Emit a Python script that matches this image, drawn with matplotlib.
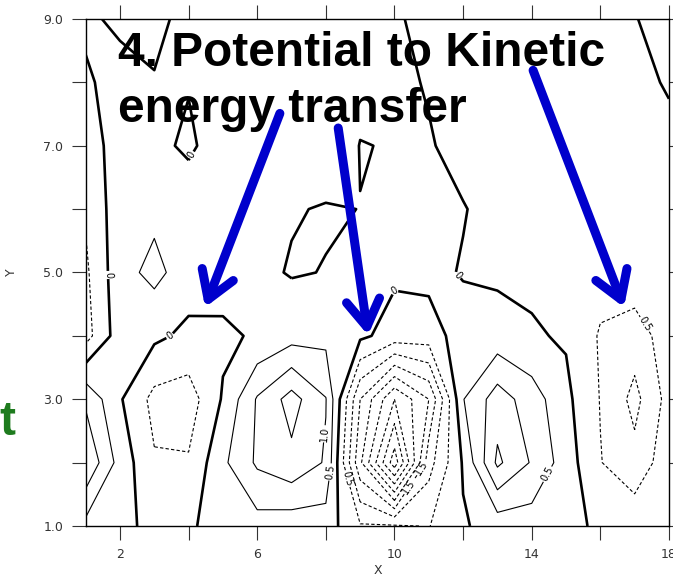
import numpy as np
import matplotlib
matplotlib.use('Agg')
from matplotlib import pyplot as plt
from matplotlib.patches import FancyArrowPatch

# grid (x = 1..18, y = 1..9)
xs = list(range(1, 19))
ys = list(range(1, 10))

row1 = [0.35, 0.25, -0.25, -0.1, 0.3, 0.3, 0.2, 0.25, -0.45, -0.45, -0.52, -0.05, 0.2, 0.25, 0.1, -0.06, -0.15, -0.1]
row2 = [1.45, 0.3, -0.45, -0.45, 0.4, 1.08, 1.37, 0.95, -1.9, -4.3, -1.2, 0.05, 1.6, 0.95, 0.25, -0.48, -0.84, -0.2]
row3 = [0.91, 0.05, -0.65, -0.75, 0.05, 1.05, 1.7, 1.02, -1.5, -3.0, -2.0, 0.48, 1.25, 0.75, 0.12, -0.52, -1.15, -0.32]
row4 = [-0.69, 0.27, 0.1, -0.11, -0.09, 0.06, 0.3, 0.35, 0.1, -0.2, -0.25, 0.25, 0.2, 0.05, -0.05, -0.55, -0.75, -0.25]
row5 = [-0.59, 0.32, 0.64, 0.24, 0.2, 0.1, -0.03, 0.012, 0.1, 0.08, 0.15, -0.04, -0.08, -0.09, -0.12, -0.3, -0.18, -0.12]
row6 = [-0.44, 0.29, 0.38, 0.17, 0.2, 0.15, 0.03, -0.03, 0.004, 0.1, 0.1, 0.03, -0.2, -0.2, -0.15, -0.15, -0.15, -0.15]
row7 = [-0.3, 0.27, 0.075, -0.05, 0.15, 0.2, 0.2, 0.27, -0.01, 0.016, 0.05, -0.2, -0.25, -0.2, -0.15, -0.15, -0.12, -0.1]
row8 = [-0.14, 0.38, 0.05, 0.017, 0.1, 0.15, 0.2, 0.2, 0.1, 0.15, -0.05, -0.2, -0.25, -0.2, -0.15, -0.12, -0.1, 0.035]
row9 = [0.18, -0.2, -0.21, 0.25, 0.2, 0.15, 0.15, 0.1, 0.05, 0.03, -0.07, -0.15, -0.2, -0.2, -0.15, -0.1, -0.05, 0.45]

neg_levels = [-4.0, -3.5, -3.0, -2.5, -2.0, -1.5, -1.0, -0.5]
pos_levels = [0.5, 1.0, 1.5]

title_lines = ["4. Potential to Kinetic", "energy transfer"]

# arrows: (tail, tip) in data units
arrows = [((6.66, 7.51), (4.48, 4.45)),
          ((8.36, 7.28), (9.23, 4.01)),
          ((14.04, 8.19), (16.69, 4.45))]

Z = np.array([row1, row2, row3, row4, row5, row6, row7, row8, row9])
X, Y = np.meshgrid(xs, ys)

def fmt(v):
    if abs(v) < 1e-9:
        return "0"
    return "%.1f" % abs(v)

fig = plt.figure(figsize=(6.73, 5.77), dpi=100)
ax = fig.add_axes([0.1273, 0.0884, 0.8667, 0.8787])

cn = ax.contour(X, Y, Z, levels=neg_levels, colors='k', linewidths=0.8,
                linestyles=[(0, (3, 2))])
cz = ax.contour(X, Y, Z, levels=[0], colors='k', linewidths=1.9)
cp = ax.contour(X, Y, Z, levels=pos_levels, colors='k', linewidths=0.8)

ax.clabel(cp, fmt=fmt, fontsize=7, inline=True, inline_spacing=1,
          manual=[(8.05, 2.45), (8.15, 1.85), (14.35, 1.85)])
ax.clabel(cn, fmt=fmt, fontsize=7, inline=True, inline_spacing=1,
          manual=[(8.65, 1.75), (10.55, 1.57), (10.75, 1.93), (17.2, 4.15)])
ax.clabel(cz, fmt=fmt, fontsize=7, inline=True, inline_spacing=1,
          manual=[(1.62, 4.96), (3.5, 3.95), (9.96, 4.72), (11.86, 4.96), (4.1, 6.85)])

ax.set_xlim(1, 18)
ax.set_ylim(1, 9)
ax.set_xticks(range(2, 19, 2))
ax.set_xticklabels(['2', '', '6', '', '10', '', '14', '', '18'])
ax.set_yticks(range(1, 10))
ax.set_yticklabels(['1.0', '', '3.0', '', '5.0', '', '7.0', '', '9.0'])
ax.tick_params(direction='out', length=10, width=0.8, top=True, right=True,
               labelsize=9, pad=6, colors='#333333')
for s in ax.spines.values():
    s.set_linewidth(1.0)
ax.set_xlabel('X', fontsize=9, color='#333333')
ax.set_ylabel('Y', fontsize=9, color='#333333')
ax.xaxis.set_label_coords(0.501, -0.075)
ax.yaxis.set_label_coords(-0.116, 0.5)

# overlay text and arrows
ax.text(1.94, 8.26, title_lines[0], fontsize=34.5, fontweight='bold',
        family='Liberation Sans', va='baseline', ha='left', zorder=5, clip_on=False)
ax.text(1.94, 7.37, title_lines[1], fontsize=34.5, fontweight='bold',
        family='Liberation Sans', va='baseline', ha='left', zorder=5, clip_on=False)

for tail, tip in arrows:
    a = FancyArrowPatch(tail, tip, arrowstyle='->,head_length=1.6,head_width=1.0',
                        lw=6.5, color='#0000CC', capstyle='round',
                        joinstyle='round', zorder=6, clip_on=False,
                        shrinkA=0, shrinkB=0, mutation_scale=12)
    ax.add_patch(a)

fig.text(15 / 673, 1 - 435 / 577, 't', fontsize=34.5, fontweight='bold',
         family='Liberation Sans', color='#1e7b1e', ha='right', va='baseline')

fig.savefig('out.png', dpi=100)
